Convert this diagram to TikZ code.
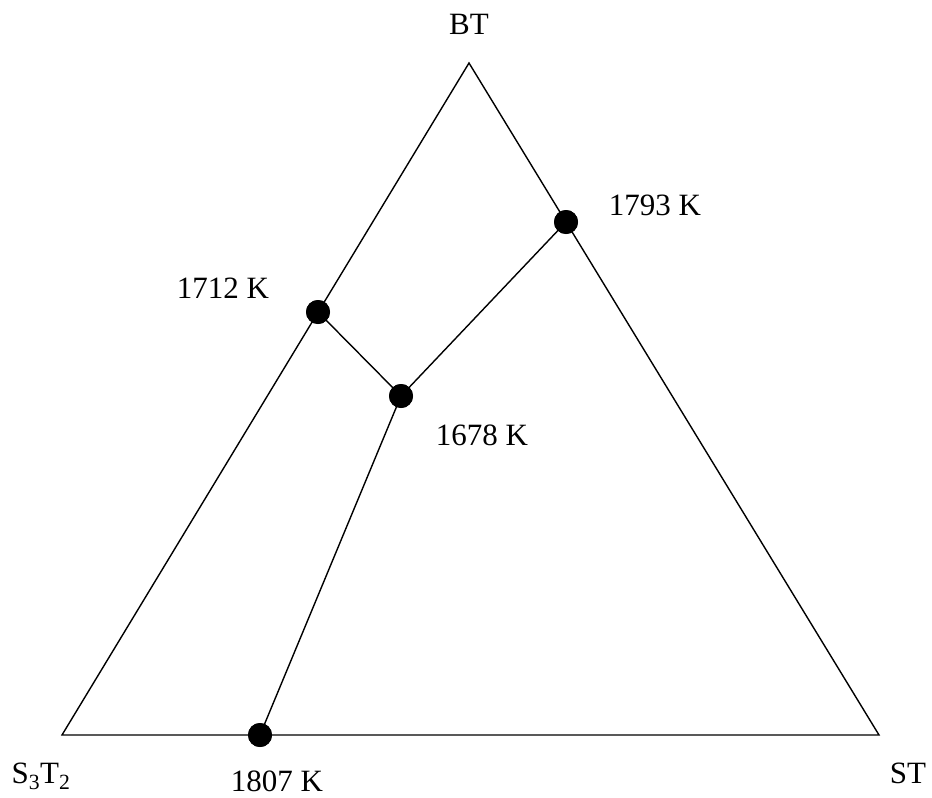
\documentclass[tikz,border=0pt]{standalone}
\usepackage{fontspec}
\setmainfont{Liberation Serif}
\begin{document}
\begin{tikzpicture}[x=1pt,y=-1pt,
  edge/.style={line width=1.4pt,black},
  dot/.style={circle,fill=black,minimum size=24pt,inner sep=0pt},
  lbl/.style={inner sep=0pt,font=\fontsize{31}{35}\selectfont}]
\useasboundingbox (0,0) rectangle (932,798);
\coordinate (top) at (469,63);
\coordinate (bl) at (62,735);
\coordinate (br) at (879,735);
\draw[edge,line join=miter] (top) -- (br) -- (bl) -- cycle;
\node[dot] (p1793) at (566,222) {};
\node[dot] (p1712) at (318,312) {};
\node[dot] (p1678) at (401,396) {};
\node[dot] (p1807) at (260,735) {};
\draw[edge] (p1712.center) -- (p1678.center) -- (p1793.center);
\draw[edge] (p1678.center) -- (p1807.center);
\node[dot] at (566,222) {};
\node[dot] at (318,312) {};
\node[dot] at (401,396) {};
\node[dot] at (260,735) {};
\node[lbl] (lBT) at (469,24) {BT};
\node[lbl] (l1793) at (655,205) {1793 K};
\node[lbl] (l1712) at (223,288) {1712 K};
\node[lbl] (l1678) at (482,435) {1678 K};
\node[lbl] (l1807) at (277,781) {1807 K};
\node[lbl] (lS3T2) at (41,776) {S\textsubscript{3}T\textsubscript{2}};
\node[lbl] (lST) at (908,773) {ST};
\end{tikzpicture}
\end{document}
